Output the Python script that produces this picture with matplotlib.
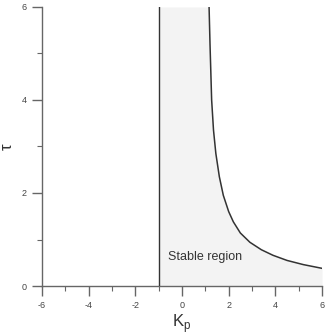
import matplotlib
matplotlib.use("Agg")
import matplotlib.pyplot as plt
from matplotlib.ticker import MultipleLocator

# Boundary curve of the stable region
kp_curve = [1.16, 1.20, 1.27, 1.35, 1.45, 1.6, 1.77, 2.0, 2.2, 2.5, 2.91, 3.4, 3.9, 4.5, 5.2, 6.0]
tau_curve = [6.0, 5.2, 4.0, 3.35, 2.85, 2.35, 1.95, 1.6, 1.38, 1.14, 0.94, 0.78, 0.66, 0.55, 0.46, 0.38]
kp_left = -1.0
tau_max = 6.0
x_ticks = [-6, -4, -2, 0, 2, 4, 6]
y_ticks = [0, 2, 4, 6]

plt.rcParams['font.family'] = ['Liberation Sans', 'DejaVu Sans']
plt.rcParams['axes.unicode_minus'] = False

fig = plt.figure(figsize=(3.26, 3.36), dpi=100)
ax = fig.add_axes([0.1288, 0.1488, 0.859, 0.8304])

# shaded stable region
fx = [kp_left] + kp_curve
fy = [tau_max] + tau_curve
ax.fill_between(fx, 0, fy, color='#f3f3f3', zorder=1, linewidth=0)

ax.plot(kp_curve, tau_curve, color='#333333', lw=1.1, zorder=3)
ax.plot([kp_left, kp_left], [0, tau_max], color='#333333', lw=1.0, zorder=3)

ax.text(-0.6, 0.55, 'Stable region', fontsize=9, color='#333333', zorder=4)

ax.set_xlim(-6, 6)
ax.set_ylim(0, 6)
ax.set_xticks(x_ticks)
ax.set_yticks(y_ticks)
ax.xaxis.set_minor_locator(MultipleLocator(1))
ax.yaxis.set_minor_locator(MultipleLocator(1))

for s in ['top', 'right']:
    ax.spines[s].set_visible(False)
for s in ['left', 'bottom']:
    ax.spines[s].set_color('#666666')
    ax.spines[s].set_linewidth(1.0)

ax.tick_params(which='major', length=7, width=1.0, color='#666666', labelsize=6.5,
               labelcolor='#444444', direction='out', pad=4)
ax.tick_params(which='minor', length=3.5, width=0.8, color='#666666', direction='out')

ax.set_xlabel(r'K$_\mathregular{p}$', fontsize=12, color='#333333', labelpad=1)
ax.set_ylabel('τ', fontsize=12, color='#333333', labelpad=5)

fig.savefig('out.png', dpi=100)
